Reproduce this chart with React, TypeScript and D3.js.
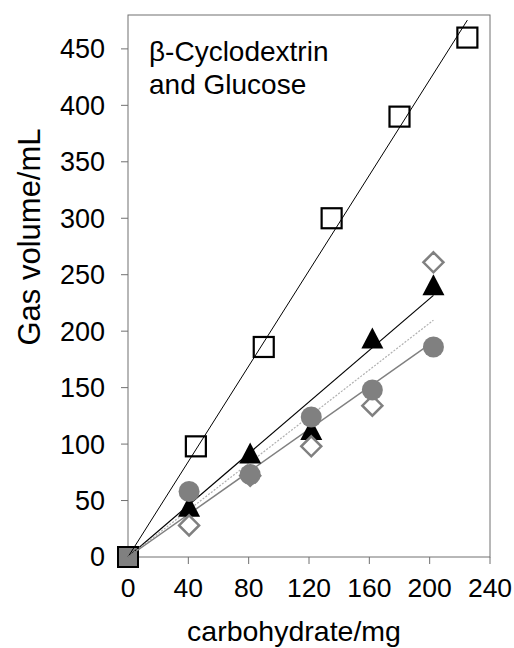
import React from "react";
import * as d3 from "d3";

// carbohydrate amounts (mg)
const xSquare = [45, 90, 135, 180, 225];
const xOther = [40.5, 81, 121.5, 162, 202.5];

// gas volume (mL)
const ySquare = [98, 186, 300, 390, 460];
const yTriangle = [45, 92, 113, 194, 241];
const yDiamond = [28, 72, 98, 134, 261];
const yCircle = [58, 73, 124, 148, 186];

const xTicks = [0, 40, 80, 120, 160, 200, 240];
const yTicks = [0, 50, 100, 150, 200, 250, 300, 350, 400, 450];

const W = 514;
const H = 648;
const FONT = "'Liberation Sans', Arial, Helvetica, sans-serif";

const x = d3.scaleLinear().domain([0, 240]).range([128, 490]);
const y = d3.scaleLinear().domain([0, 480]).range([557, 15]);

// linear trend forced through the origin
const fit = (xs: number[], ys: number[]) => {
  const slope = d3.sum(xs, (v, i) => v * ys[i]) / d3.sum(xs, (v) => v * v);
  const xmax = d3.max(xs) as number;
  return [
    [0, 0],
    [xmax, slope * xmax],
  ] as [number, number][];
};

const line = d3
  .line<[number, number]>()
  .x((d) => x(d[0]))
  .y((d) => y(d[1]));

const triPath = (cx: number, cy: number) => {
  const w = 22, h = 21;
  return `M${cx},${cy - h / 2}L${cx + w / 2},${cy + h / 2}L${cx - w / 2},${cy + h / 2}Z`;
};

const diaPath = (cx: number, cy: number) => {
  const r = 10;
  return `M${cx},${cy - r}L${cx + r},${cy}L${cx},${cy + r}L${cx - r},${cy}Z`;
};

export default function App() {
  const axisColor = "#707070";
  return (
    <svg
      width={W}
      height={H}
      style={{ position: "absolute", left: 0, top: 0, background: "#fff" }}
      fontFamily={FONT}
    >
      <rect width={W} height={H} fill="#fff" />

      {/* frame */}
      <rect
        x={x(0)}
        y={y(480)}
        width={x(240) - x(0)}
        height={y(0) - y(480)}
        fill="none"
        stroke={axisColor}
        strokeWidth={1}
      />

      {/* y ticks */}
      {yTicks.map((t) => (
        <g key={"y" + t}>
          <line x1={x(0) - 7} x2={x(0)} y1={y(t)} y2={y(t)} stroke={axisColor} />
          <text
            x={105}
            y={y(t)}
            dy="0.35em"
            textAnchor="end"
            fontSize={27}
            fill="#000"
          >
            {t}
          </text>
        </g>
      ))}

      {/* x ticks */}
      {xTicks.map((t) => (
        <g key={"x" + t}>
          <line x1={x(t)} x2={x(t)} y1={y(0)} y2={y(0) + 7} stroke={axisColor} />
          <text x={x(t)} y={597} textAnchor="middle" fontSize={26.5} fill="#000">
            {t}
          </text>
        </g>
      ))}

      {/* axis titles */}
      <text x={294} y={641} textAnchor="middle" fontSize={28.5} fill="#000">
        carbohydrate/mg
      </text>
      <text
        transform="translate(40,237) rotate(-90)"
        textAnchor="middle"
        fontSize={31}
        fill="#000"
      >
        Gas volume/mL
      </text>

      {/* annotation */}
      <text x={149} y={61} fontSize={28} fill="#000">
        β-Cyclodextrin
      </text>
      <text x={149} y={94} fontSize={28} fill="#000">
        and Glucose
      </text>

      {/* origin marker */}
      <rect
        x={x(0) - 10}
        y={y(0) - 10}
        width={20}
        height={20}
        fill="#808080"
        stroke="#000"
        strokeWidth={2}
      />

      {/* trend lines */}
      <path d={line(fit(xSquare, ySquare)) || ""} fill="none" stroke="#000" strokeWidth={1} />
      <path d={line(fit(xOther, yTriangle)) || ""} fill="none" stroke="#000" strokeWidth={1.2} />
      <path
        d={line(fit(xOther, yDiamond)) || ""}
        fill="none"
        stroke="#b0b0b0"
        strokeWidth={1.2}
        strokeDasharray="2 1.5"
      />
      <path d={line(fit(xOther, yCircle)) || ""} fill="none" stroke="#808080" strokeWidth={1.5} />

      {/* markers */}
      {xOther.map((v, i) => (
        <path key={"t" + i} d={triPath(x(v), y(yTriangle[i]))} fill="#000" />
      ))}
      {xOther.map((v, i) => (
        <path
          key={"d" + i}
          d={diaPath(x(v), y(yDiamond[i]))}
          fill="#fff"
          stroke="#808080"
          strokeWidth={2.5}
        />
      ))}
      {xOther.map((v, i) => (
        <circle key={"c" + i} cx={x(v)} cy={y(yCircle[i])} r={10.5} fill="#808080" />
      ))}
      {xSquare.map((v, i) => (
        <rect
          key={"s" + i}
          x={x(v) - 10}
          y={y(ySquare[i]) - 10}
          width={20}
          height={20}
          fill="none"
          stroke="#000"
          strokeWidth={2.2}
        />
      ))}
    </svg>
  );
}
